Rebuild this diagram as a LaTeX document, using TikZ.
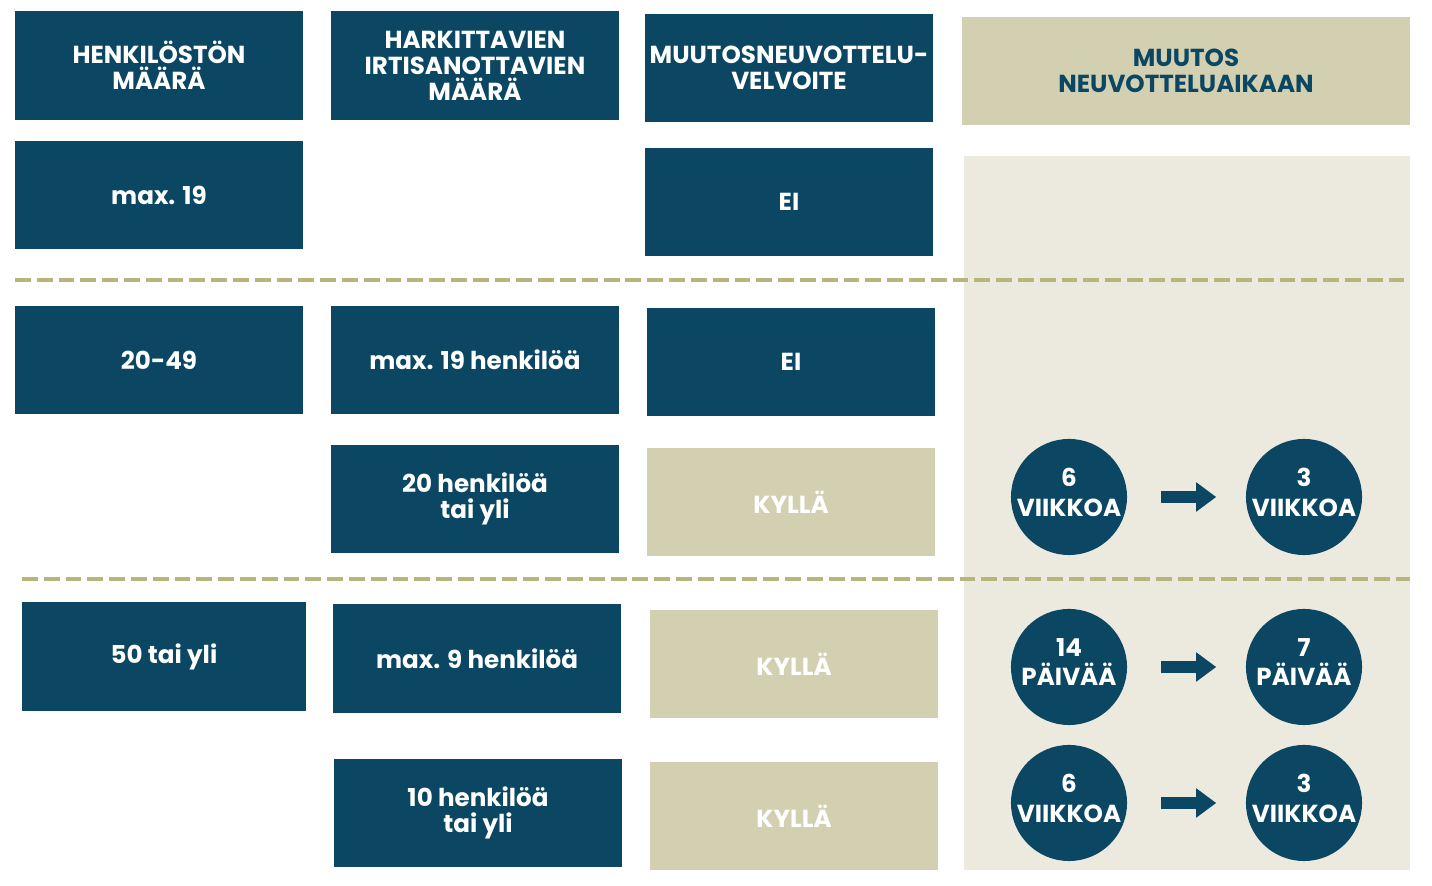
\documentclass[tikz,border=0pt]{standalone}
\usepackage{fontspec}
\setmainfont{Poppins}
\usetikzlibrary{arrows.meta}
\definecolor{navy}{RGB}{11,71,99}
\definecolor{khaki}{RGB}{211,208,178}
\definecolor{sand}{RGB}{236,234,223}
\definecolor{olive}{RGB}{184,181,122}
\begin{document}
\begin{tikzpicture}[x=0.01cm,y=-0.01cm,
  box/.style={fill=navy,text=white,minimum width=2.88cm,minimum height=1.08cm,inner sep=0pt,align=center,font=\bfseries\fontsize{7}{7.4}\selectfont},
  kbox/.style={box,fill=khaki},
  circ/.style={circle,fill=navy,text=white,minimum size=1.16cm,inner sep=-3pt,align=center,text depth=0.1cm,font=\bfseries\fontsize{7}{8.5}\selectfont},
  arr/.style={navy,line width=0.12cm,-{Triangle[length=0.2cm,width=0.28cm]},shorten <=0.33cm,shorten >=0.29cm},
  sep/.style={olive,line width=0.04cm,dash pattern=on 4.5pt off 1.7pt}]
\useasboundingbox (0,0) rectangle (1432,886);
\fill[sand] (964,156) rectangle (1410,870);
\draw[sep] (15,280) -- (1410,280);
\draw[sep] (22,579) -- (1410,579);
\node[box] (h1) at (159,65.5) {HENKILÖSTÖN\\MÄÄRÄ};
\node[box] (h2) at (475,65.5) {HARKITTAVIEN\\IRTISANOTTAVIEN\\MÄÄRÄ};
\node[box] (h3) at (789,68) {MUUTOSNEUVOTTELU-\\VELVOITE};
\node[kbox,text=navy,minimum width=4.48cm] (h4) at (1186,71) {MUUTOS\\NEUVOTTELUAIKAAN};
\node[box] (n1) at (159,195) {max. 19};
\node[box] (e1) at (789,202) {EI};
\node[box] (n2) at (159,360) {20-49};
\node[box] (m1) at (475,360) {max. 19 henkilöä};
\node[box] (e2) at (791,362) {EI};
\node[box] (m2) at (475,499) {20 henkilöä\\tai yli};
\node[kbox] (k1) at (791,502) {KYLLÄ};
\node[box,minimum width=2.84cm] (n3) at (164,656.5) {50 tai yli};
\node[box] (m3) at (477,658.5) {max. 9 henkilöä};
\node[kbox] (k2) at (794,664) {KYLLÄ};
\node[box] (m4) at (478,813) {10 henkilöä\\tai yli};
\node[kbox] (k3) at (794,816) {KYLLÄ};
\node[circ] (a1) at (1069,497) {6\\VIIKKOA};
\node[circ] (b1) at (1304,497) {3\\VIIKKOA};
\node[circ] (a2) at (1069,667) {14\\PÄIVÄÄ};
\node[circ] (b2) at (1304,667) {7\\PÄIVÄÄ};
\node[circ] (a3) at (1069,803) {6\\VIIKKOA};
\node[circ] (b3) at (1304,803) {3\\VIIKKOA};
\draw[arr] (a1) -- (b1);
\draw[arr] (a2) -- (b2);
\draw[arr] (a3) -- (b3);
\end{tikzpicture}
\end{document}
